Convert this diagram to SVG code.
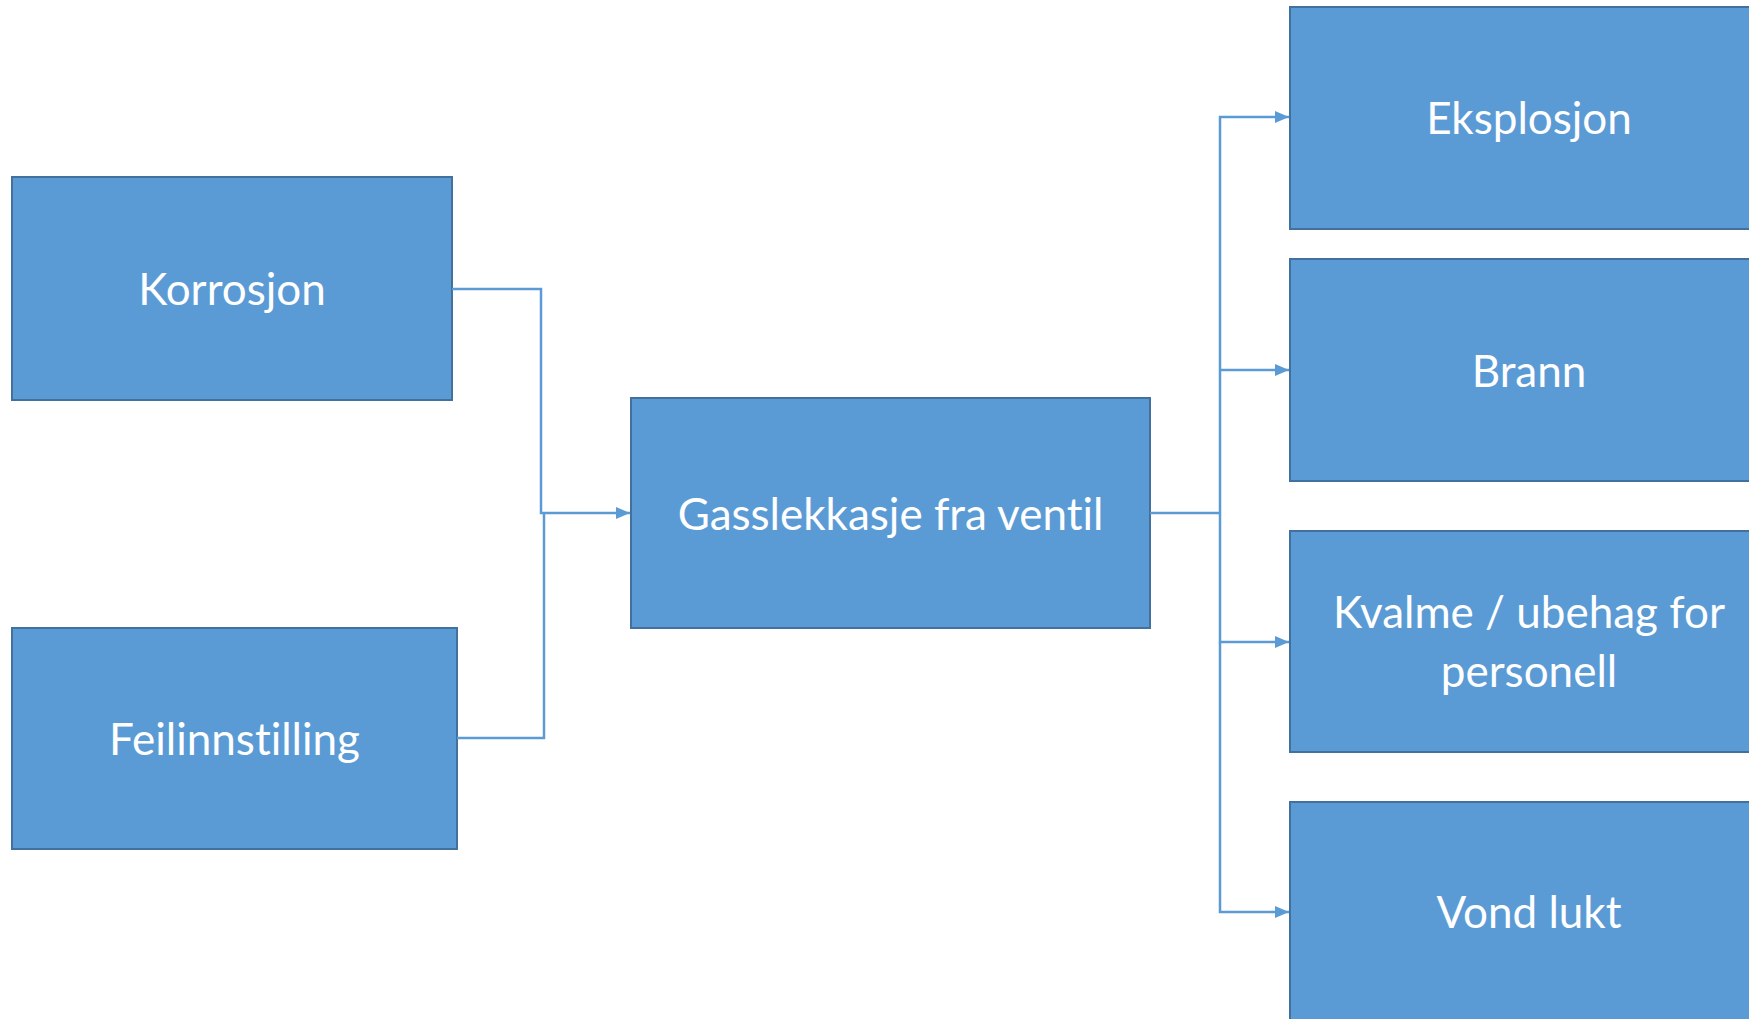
<svg xmlns="http://www.w3.org/2000/svg" width="1749" height="1019" viewBox="0 0 1749 1019">
  <style>
    .box { fill: #5B9BD5; stroke: #41719C; stroke-width: 2; }
    .label { fill: #FFFFFF; font-family: Lato, "Open Sans", "Liberation Sans", sans-serif; font-size: 44px; text-anchor: middle; font-variant-ligatures: none; }
    .wire { fill: none; stroke: #5B9BD5; stroke-width: 2.5; }
  </style>
  <defs>
    <marker id="arrow" viewBox="0 0 14 12" refX="14" refY="6" markerWidth="14" markerHeight="12" markerUnits="userSpaceOnUse" orient="auto">
      <path d="M0,0 L14,6 L0,12 Z" fill="#5B9BD5"/>
    </marker>
  </defs>
  <rect width="1749" height="1019" fill="#FFFFFF"/>

  <!-- causes -->
  <g id="korrosjon">
    <rect class="box" x="12" y="177" width="440" height="223"/>
    <text class="label" x="232" y="305">Korrosjon</text>
  </g>
  <g id="feilinnstilling">
    <rect class="box" x="12" y="628" width="445" height="221"/>
    <text class="label" x="234.5" y="755">Feilinnstilling</text>
  </g>

  <!-- central event -->
  <g id="gasslekkasje">
    <rect class="box" x="631" y="398" width="519" height="230"/>
    <text class="label" x="890.5" y="530">Gasslekkasje fra ventil</text>
  </g>

  <!-- consequences -->
  <g id="eksplosjon">
    <rect class="box" x="1290" y="7" width="480" height="222"/>
    <text class="label" x="1529" y="134">Eksplosjon</text>
  </g>
  <g id="brann">
    <rect class="box" x="1290" y="259" width="480" height="222"/>
    <text class="label" x="1529" y="387">Brann</text>
  </g>
  <g id="kvalme">
    <rect class="box" x="1290" y="531" width="480" height="221"/>
    <text class="label" x="1529" y="628">Kvalme / ubehag for</text>
    <text class="label" x="1529" y="687">personell</text>
  </g>
  <g id="vond-lukt">
    <rect class="box" x="1290" y="802" width="480" height="230"/>
    <text class="label" x="1529" y="928">Vond lukt</text>
  </g>

  <!-- connectors -->
  <g id="connectors">
    <path class="wire" d="M452,289 H541 V513 H630" marker-end="url(#arrow)"/>
    <path class="wire" d="M457,738 H544 V513"/>
    <path class="wire" d="M1150,513 H1220"/>
    <path class="wire" d="M1220,513 V117 H1289" marker-end="url(#arrow)"/>
    <path class="wire" d="M1220,370 H1289" marker-end="url(#arrow)"/>
    <path class="wire" d="M1220,513 V642 H1289" marker-end="url(#arrow)"/>
    <path class="wire" d="M1220,642 V912 H1289" marker-end="url(#arrow)"/>
  </g>
</svg>
